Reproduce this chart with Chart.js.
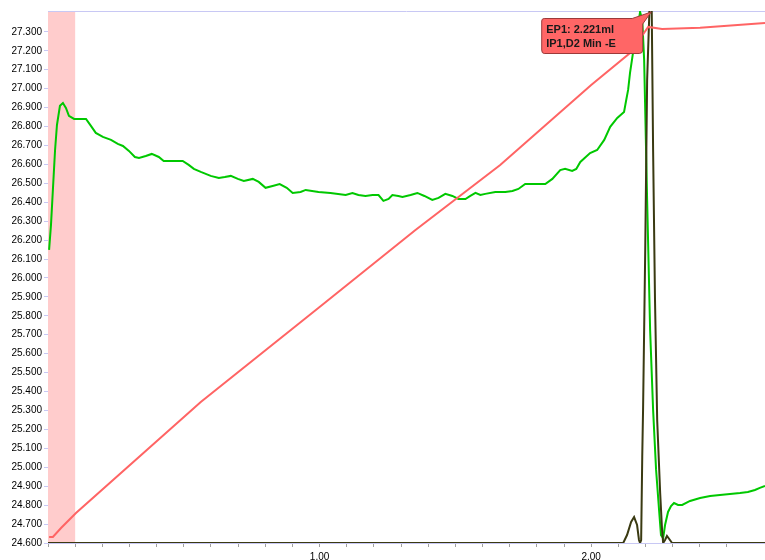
<!DOCTYPE html>
<html>
<head>
<meta charset="utf-8">
<script src="https://cdn.jsdelivr.net/npm/chart.js@4.4.1/dist/chart.umd.min.js"></script>
<style>
  body { margin: 0; background: #fff; }
  canvas { display: block; }
</style>
</head>
<body>
<canvas id="chart" width="765" height="560"></canvas>
<script>
// titration curve - volume (ml) on x
const redX = [0.004, 0.018, 0.048, 0.103, 0.5625, 1.0, 1.353, 1.665, 2.0, 2.143, 2.21, 2.261, 2.401, 2.64];
const redY = [24.632, 24.632, 24.679, 24.758, 25.345, 25.847, 26.253, 26.597, 27.019, 27.188, 27.326, 27.315, 27.321, 27.347];

const greenX = [0.004, 0.011, 0.018, 0.026, 0.033, 0.044, 0.055, 0.066, 0.077, 0.096, 0.118, 0.14, 0.158, 0.176,
  0.202, 0.232, 0.257, 0.276, 0.298, 0.32, 0.335, 0.36, 0.382, 0.408, 0.426, 0.46, 0.496, 0.518, 0.537, 0.5625,
  0.599, 0.629, 0.651, 0.673, 0.699, 0.721, 0.754, 0.776, 0.801, 0.827, 0.853, 0.879, 0.901, 0.93, 0.949, 0.996,
  1.04, 1.096, 1.121, 1.143, 1.169, 1.195, 1.217, 1.235, 1.254, 1.268, 1.29, 1.305, 1.335, 1.36, 1.386, 1.415,
  1.438, 1.463, 1.489, 1.511, 1.537, 1.555, 1.574, 1.592, 1.61, 1.647, 1.684, 1.71, 1.732, 1.757, 1.794, 1.831,
  1.857, 1.886, 1.904, 1.93, 1.945, 1.96, 1.996, 2.022, 2.048, 2.07, 2.096, 2.121, 2.129, 2.136, 2.143, 2.154,
  2.162, 2.173, 2.18, 2.188, 2.195, 2.206, 2.217, 2.228, 2.239, 2.25, 2.257, 2.265, 2.272, 2.283, 2.294, 2.305,
  2.32, 2.335, 2.364, 2.401, 2.438, 2.474, 2.511, 2.548, 2.577, 2.603, 2.621, 2.64];
const greenY = [26.148, 26.28, 26.465, 26.676, 26.808, 26.909, 26.924, 26.898, 26.856, 26.84, 26.84, 26.84, 26.803, 26.766,
  26.745, 26.729, 26.708, 26.697, 26.671, 26.639, 26.634, 26.644, 26.655, 26.639, 26.618, 26.618, 26.618, 26.597, 26.576, 26.56,
  26.539, 26.528, 26.533, 26.539, 26.523, 26.512, 26.523, 26.507, 26.476, 26.486, 26.496, 26.476, 26.449, 26.454, 26.465, 26.454,
  26.449, 26.438, 26.449, 26.438, 26.433, 26.438, 26.438, 26.407, 26.417, 26.438, 26.433, 26.428, 26.438, 26.449, 26.433, 26.412,
  26.423, 26.444, 26.433, 26.417, 26.417, 26.433, 26.449, 26.438, 26.444, 26.454, 26.454, 26.459, 26.47, 26.496, 26.496, 26.496,
  26.523, 26.57, 26.576, 26.565, 26.576, 26.613, 26.66, 26.676, 26.729, 26.798, 26.845, 26.877, 26.94, 26.993, 27.083, 27.189,
  27.257, 27.336, 27.405, 27.363, 27.152, 26.412, 25.725, 25.303, 24.986, 24.774, 24.642, 24.626, 24.695, 24.764, 24.795, 24.811,
  24.801, 24.801, 24.822, 24.838, 24.848, 24.854, 24.859, 24.864, 24.869, 24.88, 24.891, 24.901];

const derivX = [0.0, 2.118, 2.132, 2.147, 2.158, 2.169, 2.176, 2.18, 2.184, 2.188, 2.191, 2.199, 2.206, 2.221,
  2.228, 2.235, 2.243, 2.254, 2.261, 2.265, 2.272, 2.279, 2.29, 2.298, 2.64];
const derivY = [24.6, 24.6, 24.642, 24.711, 24.737, 24.695, 24.616, 24.6, 24.616, 25.054, 25.303, 26.148, 27.046, 27.7,
  26.676, 25.884, 25.25, 24.864, 24.669, 24.6, 24.616, 24.637, 24.616, 24.6, 24.6];

const bandStart = 0, bandEnd = 0.1;
const epVolume = 2.221;
const epLines = ["EP1: 2.221ml", "IP1,D2 Min -E"];

const pts = (xs, ys) => xs.map((x, i) => ({ x: x, y: ys[i] }));

Chart.defaults.font.family = "'Liberation Sans', Arial, sans-serif";
Chart.defaults.font.size = 10;
Chart.defaults.color = "#000";

const lavender = "#c8c8f4";

const extras = {
    id: "extras",
    beforeDatasetsDraw(chart) {
        const { ctx, chartArea: a, scales } = chart;
        const x0 = scales.x.getPixelForValue(bandStart);
        const x1 = scales.x.getPixelForValue(bandEnd);
        ctx.save();
        ctx.fillStyle = "#ffcccc";
        ctx.fillRect(x0, a.top, x1 - x0, a.bottom - a.top);
        ctx.strokeStyle = lavender;
        ctx.lineWidth = 1;
        ctx.beginPath();
        ctx.moveTo(a.left, a.top + 0.5);
        ctx.lineTo(a.right, a.top + 0.5);
        ctx.stroke();
        ctx.restore();
    },
    afterDatasetsDraw(chart) {
        const { ctx, chartArea: a, scales } = chart;
        const px = scales.x.getPixelForValue(epVolume);
        const py = a.top + 1;
        const right = px - 9, left = right - 101;
        const top = a.top + 7, bottom = top + 35;
        ctx.save();
        ctx.fillStyle = "#ff6666";
        ctx.strokeStyle = "#9c3a3a";
        ctx.lineWidth = 1;
        ctx.beginPath();
        const r = 3;
        ctx.moveTo(left + r, top + 0.5);
        ctx.lineTo(right - 10, top + 0.5);
        ctx.lineTo(px, py);
        ctx.lineTo(right + 0.5, top + 6);
        ctx.lineTo(right + 0.5, bottom - r);
        ctx.quadraticCurveTo(right + 0.5, bottom + 0.5, right - r, bottom + 0.5);
        ctx.lineTo(left + r, bottom + 0.5);
        ctx.quadraticCurveTo(left + 0.5, bottom + 0.5, left + 0.5, bottom - r);
        ctx.lineTo(left + 0.5, top + r);
        ctx.quadraticCurveTo(left + 0.5, top + 0.5, left + r, top + 0.5);
        ctx.closePath();
        ctx.fill();
        ctx.stroke();
        ctx.fillStyle = "#1a1a1a";
        ctx.font = "bold 11px 'Liberation Sans', Arial, sans-serif";
        ctx.textBaseline = "alphabetic";
        ctx.fillText(epLines[0], left + 5, top + 15);
        ctx.fillText(epLines[1], left + 5, top + 29);
        ctx.restore();
    }
};

new Chart(document.getElementById("chart"), {
    type: "line",
    data: {
        datasets: [
            { data: pts(redX, redY), borderColor: "#ff6464", borderWidth: 2 },
            { data: pts(derivX, derivY), borderColor: "#3a3a12", borderWidth: 2 },
            { data: pts(greenX, greenY), borderColor: "#00c800", borderWidth: 2 },
        ],
    },
    options: {
        responsive: false,
        animation: false,
        parsing: false,
        layout: { padding: { top: 11, left: 0, right: 0, bottom: 0 } },
        elements: { point: { radius: 0 }, line: { tension: 0 } },
        plugins: { legend: { display: false }, tooltip: { enabled: false } },
        scales: {
            x: {
                type: "linear",
                min: 0,
                max: 2.64,
                afterFit: (s) => { s.height = 17; s.paddingLeft = 0; s.paddingRight = 0; },
                border: { color: lavender },
                grid: { drawOnChartArea: false, tickLength: 4, color: "#a0a0a0" },
                ticks: {
                    stepSize: 0.1,
                    autoSkip: false,
                    maxRotation: 0,
                    padding: 4,
                    callback: (v) => {
                        const r = Math.round(v * 10) / 10;
                        return (r > 0 && Math.abs(r - Math.round(r)) < 1e-6) ? r.toFixed(2) : "";
                    },
                },
            },
            y: {
                min: 24.6,
                max: 27.41,
                afterFit: (s) => { s.width = 48; },
                border: { color: lavender },
                grid: { drawOnChartArea: false, tickLength: 4, color: lavender },
                ticks: {
                    stepSize: 0.1,
                    padding: 2,
                    autoSkip: false,
                    callback: (v) => (v > 27.35 ? null : v.toFixed(3)),
                },
            },
        },
    },
    plugins: [extras],
});
</script>
</body>
</html>
